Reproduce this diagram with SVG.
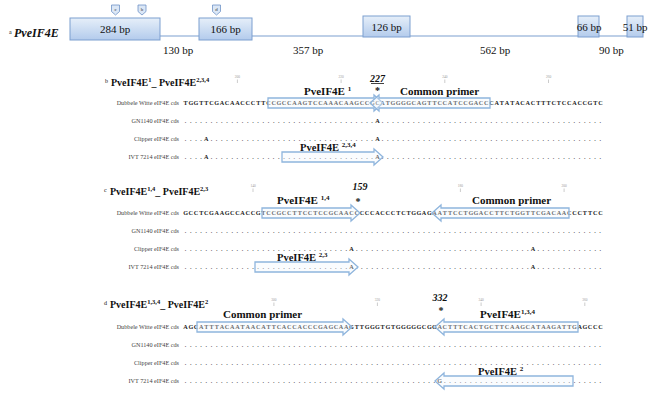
<svg xmlns="http://www.w3.org/2000/svg" width="666" height="402" viewBox="0 0 666 402">
<defs>
  <linearGradient id="exonFill" x1="0" y1="0" x2="0" y2="1">
    <stop offset="0" stop-color="#e6eff9"/>
    <stop offset="1" stop-color="#b3cbec"/>
  </linearGradient>
  <style>
    text { font-family: "Liberation Serif", "Times New Roman", serif; fill: #111; }
    .exon { fill: url(#exonFill); stroke: #7d9fd0; stroke-width: 1; }
    .exlab { font-size: 11px; text-anchor: middle; }
    .intlab { font-size: 11px; }
    .mark { fill: #dbe7f6; stroke: #6f93c6; stroke-width: 0.8; }
    .marklab { font-size: 5px; text-anchor: middle; fill: #333; }
    .ttl { font-size: 10px; font-weight: bold; }
    .plet { font-size: 6px; }
    .seq { font-size: 6.2px; font-weight: bold; text-anchor: middle; fill: #222; }
    .dots { font-size: 6.2px; font-weight: bold; letter-spacing: 3.635px; fill: #444; }
    .snp { font-size: 6.2px; font-weight: bold; text-anchor: middle; fill: #222; }
    .row { font-size: 6.2px; text-anchor: end; fill: #444; }
    .prim { font-size: 11px; font-weight: bold; }
    .primlow { font-size: 10.5px; font-weight: bold; }
    .pos { font-size: 10px; font-weight: bold; font-style: italic; text-anchor: middle; }
    .star { font-size: 10px; font-weight: bold; text-anchor: middle; }
    .tnum { font-size: 3.5px; text-anchor: middle; fill: #999; }
    .tick { stroke: #999; stroke-width: 0.5; }
    .arrow { fill: #f2f7fc; fill-opacity: 0.35; stroke: #8fb5dd; stroke-width: 1.3; stroke-linejoin: miter; }
  </style>
</defs>
<rect width="666" height="402" fill="#ffffff"/>

<!-- gene model: intron line -->
<g id="connectors">
  <line x1="160" y1="36" x2="627" y2="36" stroke="#7d9fd0" stroke-width="1.2"/>
</g>

<g id="gene-label">
  <text x="9" y="34" font-size="6">a</text>
  <text x="14" y="37" font-size="12" font-weight="bold" font-style="italic">PveIF4E</text>
</g>

<g id="exon1"><rect class="exon" x="70" y="18" width="90" height="22"/><text class="exlab" x="115" y="33">284 bp</text></g>
<g id="exon2"><rect class="exon" x="199" y="18" width="53" height="22"/><text class="exlab" x="225.5" y="33">166 bp</text></g>
<g id="exon3"><rect class="exon" x="363" y="16" width="47" height="21"/><text class="exlab" x="386.5" y="30.5">126 bp</text></g>
<g id="exon4"><rect class="exon" x="578" y="16" width="21" height="21"/><text class="exlab" x="589" y="30.5">66 bp</text></g>
<g id="exon5"><rect class="exon" x="627" y="16" width="16" height="21"/><text class="exlab" x="635" y="30.5">51 bp</text></g>

<g id="introns">
  <text class="intlab" x="163" y="54">130 bp</text>
  <text class="intlab" x="293" y="54">357 bp</text>
  <text class="intlab" x="480" y="54">562 bp</text>
  <text class="intlab" x="599" y="54">90 bp</text>
</g>

<g id="markers">
  <path class="mark" d="M111.5,5 h8 v6.5 l-4,3.5 l-4,-3.5 z"/><text class="marklab" x="115.5" y="10.5">c</text>
  <path class="mark" d="M138,5 h8 v6.5 l-4,3.5 l-4,-3.5 z"/><text class="marklab" x="142" y="10.5">b</text>
  <path class="mark" d="M212.5,5 h8 v6.5 l-4,3.5 l-4,-3.5 z"/><text class="marklab" x="216.5" y="10.5">d</text>
</g>

<!-- panel b -->
<g id="panel-b">
  <text class="plet" x="105" y="83">b</text>
  <text class="ttl" x="111" y="86">PveIF4E<tspan dy="-4" font-size="6.5">1</tspan><tspan dy="4">_ PveIF4E</tspan><tspan dy="-4" font-size="6.5">2,3,4</tspan></text>
  <text class="tnum" x="237.4" y="78">200</text><line class="tick" x1="237.4" y1="79.5" x2="237.4" y2="83"/>
  <text class="tnum" x="341.1" y="78">220</text><line class="tick" x1="341.1" y1="79.5" x2="341.1" y2="83"/>
  <text class="tnum" x="444.8" y="78">240</text><line class="tick" x1="444.8" y1="79.5" x2="444.8" y2="83"/>
  <text class="tnum" x="548.5" y="78">260</text><line class="tick" x1="548.5" y1="79.5" x2="548.5" y2="83"/>
  <text class="pos" x="377.4" y="82">227</text><line x1="371" y1="83.5" x2="384" y2="83.5" stroke="#111" stroke-width="0.8"/>
  <text class="star" x="377.4" y="94">*</text>
  <text class="prim" x="304" y="95">PveIF4E <tspan dy="-4" font-size="7">1</tspan></text>
  <text class="prim" x="400" y="95">Common primer</text>

  <text class="row" x="179" y="104.5">Dubbele Witte eIF4E cds</text>
  <text class="seq" y="105" x="185.6 190.8 196.0 201.2 206.3 211.5 216.7 221.9 227.1 232.3 237.4 242.6 247.8 253.0 258.2 263.4 268.6 273.7 278.9 284.1 289.3 294.5 299.7 304.9 310.0 315.2 320.4 325.6 330.8 336.0 341.1 346.3 351.5 356.7 361.9 367.1 372.3 377.4 382.6 387.8 393.0 398.2 403.4 408.6 413.7 418.9 424.1 429.3 434.5 439.7 444.8 450.0 455.2 460.4 465.6 470.8 476.0 481.1 486.3 491.5 496.7 501.9 507.1 512.3 517.4 522.6 527.8 533.0 538.2 543.4 548.5 553.7 558.9 564.1 569.3 574.5 579.7 584.8 590.0 595.2 600.4">TGGTTCGACAACCCTTCCGCCAAGTCCAAACAAGCCGCATGGGGCAGTTCCATCCGACCCATATACACTTTCTCCACCGTC</text>
  <polygon class="arrow" points="268,98 374,98 374,95 383,103 374,111 374,108 268,108"/>
  <polygon class="arrow" points="370,103 379,95 379,98 490,98 490,108 379,108 379,111"/>

  <text class="row" x="179" y="122.5">GN1140 eIF4E cds</text>
  <text class="dots" x="184.8" y="123">.....................................</text>
  <text class="snp" x="377.4" y="123">A</text>
  <text class="dots" x="381.8" y="123">...........................................</text>

  <text class="row" x="179" y="140.5">Clipper eIF4E cds</text>
  <text class="dots" x="184.8" y="141">....</text>
  <text class="snp" x="206.3" y="141">A</text>
  <text class="dots" x="210.7" y="141">................................</text>
  <text class="snp" x="377.4" y="141">A</text>
  <text class="dots" x="381.8" y="141">...........................................</text>

  <text class="row" x="179" y="158.5">IVT 7214 eIF4E cds</text>
  <text class="dots" x="184.8" y="159">....</text>
  <text class="snp" x="206.3" y="159">A</text>
  <text class="dots" x="210.7" y="159">................................</text>
  <text class="snp" x="377.4" y="159">A</text>
  <text class="dots" x="381.8" y="159">...........................................</text>
  <polygon class="arrow" points="282,152 374,152 374,149 383,157 374,165 374,162 282,162"/>
  <text class="primlow" x="300" y="151">PveIF4E <tspan dy="-4" font-size="7">2,3,4</tspan></text>
</g>

<!-- panel c -->
<g id="panel-c">
  <text class="plet" x="104" y="192">c</text>
  <text class="ttl" x="110" y="195">PveIF4E<tspan dy="-4" font-size="6.5">1,4</tspan><tspan dy="4">_ PveIF4E</tspan><tspan dy="-4" font-size="6.5">2,3</tspan></text>
  <text class="tnum" x="253.0" y="187">140</text><line class="tick" x1="253.0" y1="188.5" x2="253.0" y2="192"/>
  <text class="tnum" x="460.4" y="187">180</text><line class="tick" x1="460.4" y1="188.5" x2="460.4" y2="192"/>
  <text class="tnum" x="564.1" y="187">200</text><line class="tick" x1="564.1" y1="188.5" x2="564.1" y2="192"/>
  <text class="pos" x="360" y="190">159</text>
  <text class="star" x="358" y="205">*</text>
  <text class="prim" x="277" y="204">PveIF4E <tspan dy="-4" font-size="7">1,4</tspan></text>
  <text class="prim" x="472" y="204">Common primer</text>

  <text class="row" x="179" y="214.5">Dubbele Witte eIF4E cds</text>
  <text class="seq" y="215" x="185.6 190.8 196.0 201.2 206.3 211.5 216.7 221.9 227.1 232.3 237.4 242.6 247.8 253.0 258.2 263.4 268.6 273.7 278.9 284.1 289.3 294.5 299.7 304.9 310.0 315.2 320.4 325.6 330.8 336.0 341.1 346.3 351.5 356.7 361.9 367.1 372.3 377.4 382.6 387.8 393.0 398.2 403.4 408.6 413.7 418.9 424.1 429.3 434.5 439.7 444.8 450.0 455.2 460.4 465.6 470.8 476.0 481.1 486.3 491.5 496.7 501.9 507.1 512.3 517.4 522.6 527.8 533.0 538.2 543.4 548.5 553.7 558.9 564.1 569.3 574.5 579.7 584.8 590.0 595.2 600.4">GCCTCGAAGCCACCGTCCGCCTTCCTCCGCAACCCCCACCCTCTGGAGAATTCCTGGACCTTCTGGTTCGACAACCCTTCC</text>
  <polygon class="arrow" points="262,208 351,208 351,205 360,213 351,221 351,218 262,218"/>
  <polygon class="arrow" points="432,213 441,205 441,208 569,208 569,218 441,218 441,221"/>

  <text class="row" x="179" y="232.5">GN1140 eIF4E cds</text>
  <text class="dots" x="184.8" y="233">.................................................................................</text>

  <text class="row" x="179" y="250.5">Clipper eIF4E cds</text>
  <text class="dots" x="184.8" y="251">................................</text>
  <text class="snp" x="351.5" y="251">A</text>
  <text class="dots" x="355.9" y="251">..................................</text>
  <text class="snp" x="533.0" y="251">A</text>
  <text class="dots" x="537.4" y="251">.............</text>

  <text class="row" x="179" y="268.5">IVT 7214 eIF4E cds</text>
  <text class="dots" x="184.8" y="269">................................</text>
  <text class="snp" x="351.5" y="269">A</text>
  <text class="dots" x="355.9" y="269">..................................</text>
  <text class="snp" x="533.0" y="269">A</text>
  <text class="dots" x="537.4" y="269">.............</text>
  <polygon class="arrow" points="255,262 349,262 349,259 358,267 349,275 349,272 255,272"/>
  <text class="primlow" x="277" y="261">PveIF4E <tspan dy="-4" font-size="7">2,3</tspan></text>
</g>

<!-- panel d -->
<g id="panel-d">
  <text class="plet" x="104" y="305">d</text>
  <text class="ttl" x="110" y="308">PveIF4E<tspan dy="-4" font-size="6.5">1,3,4</tspan><tspan dy="4">_ PveIF4E</tspan><tspan dy="-4" font-size="6.5">2</tspan></text>
  <text class="tnum" x="273.9" y="301">300</text><line class="tick" x1="273.9" y1="302.5" x2="273.9" y2="306"/>
  <text class="tnum" x="377.4" y="301">320</text><line class="tick" x1="377.4" y1="302.5" x2="377.4" y2="306"/>
  <text class="tnum" x="481.1" y="301">340</text><line class="tick" x1="481.1" y1="302.5" x2="481.1" y2="306"/>
  <text class="tnum" x="584.8" y="301">360</text><line class="tick" x1="584.8" y1="302.5" x2="584.8" y2="306"/>
  <text class="pos" x="440" y="301">332</text>
  <text class="star" x="441" y="314">*</text>
  <text class="prim" x="223" y="318">Common primer</text>
  <text class="prim" x="480" y="318">PveIF4E<tspan dy="-4" font-size="7">1,3,4</tspan></text>

  <text class="row" x="179" y="328.5">Dubbele Witte eIF4E cds</text>
  <text class="seq" y="329" x="185.6 190.8 196.0 201.2 206.3 211.5 216.7 221.9 227.1 232.3 237.4 242.6 247.8 253.0 258.2 263.4 268.6 273.7 278.9 284.1 289.3 294.5 299.7 304.9 310.0 315.2 320.4 325.6 330.8 336.0 341.1 346.3 351.5 356.7 361.9 367.1 372.3 377.4 382.6 387.8 393.0 398.2 403.4 408.6 413.7 418.9 424.1 429.3 434.5 439.7 444.8 450.0 455.2 460.4 465.6 470.8 476.0 481.1 486.3 491.5 496.7 501.9 507.1 512.3 517.4 522.6 527.8 533.0 538.2 543.4 548.5 553.7 558.9 564.1 569.3 574.5 579.7 584.8 590.0 595.2 600.4">AGCATTTACAATAACATTCACCACCCGAGCAAGTTGGGTGTGGGGGCGGACTTTCACTGCTTCAAGCATAAGATTGAGCCC</text>
  <polygon class="arrow" points="197,322 343,322 343,319 352,327 343,335 343,332 197,332"/>
  <polygon class="arrow" points="435,327 444,319 444,322 578,322 578,332 444,332 444,335"/>

  <text class="row" x="179" y="346.5">GN1140 eIF4E cds</text>
  <text class="dots" x="184.8" y="347">.................................................................................</text>

  <text class="row" x="179" y="364.5">Clipper eIF4E cds</text>
  <text class="dots" x="184.8" y="365">.................................................................................</text>

  <text class="row" x="179" y="382.5">IVT 7214 eIF4E cds</text>
  <text class="dots" x="184.8" y="383">.................................................</text>
  <text class="snp" x="439.7" y="383">G</text>
  <text class="dots" x="444.1" y="383">...............................</text>
  <polygon class="arrow" points="435,381 444,373 444,376 573,376 573,386 444,386 444,389"/>
  <text class="primlow" x="478" y="375">PveIF4E <tspan dy="-4" font-size="7">2</tspan></text>
</g>
</svg>
